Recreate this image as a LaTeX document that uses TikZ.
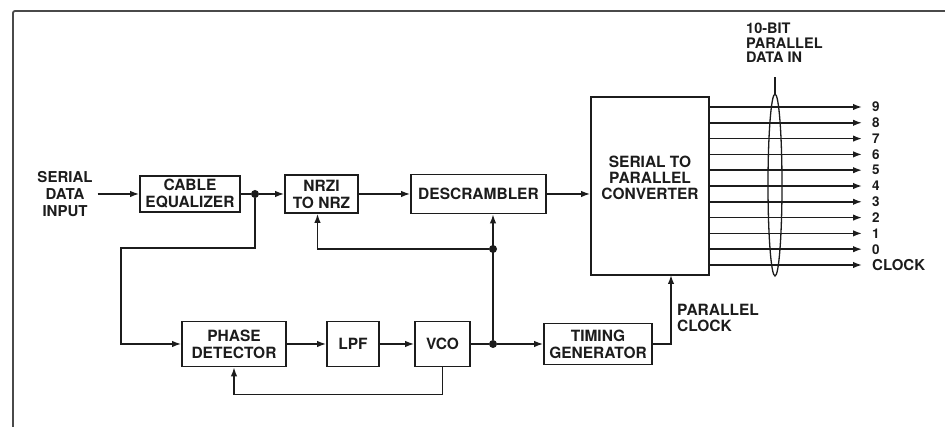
\documentclass[tikz,border=0pt]{standalone}
\usepackage{fontspec}
\setmainfont{TeX Gyre Heros}
\usepackage{tikz}
\usetikzlibrary{arrows.meta,positioning}
\usepackage{xcolor}
\definecolor{inkdark}{HTML}{1c1c1c}
\definecolor{framegray}{HTML}{4a4a4a}

\tikzset{
  block/.style={draw=inkdark, line width=1.7pt, inner sep=0pt, align=center,
    text=inkdark, font=\fontsize{15.5}{17}\selectfont\bfseries},
  tag/.style={inner sep=0pt, align=center, text=inkdark,
    font=\fontsize{15}{17}\selectfont\bfseries},
  wire/.style={draw=inkdark, line width=1.6pt},
  feed/.style={wire, -{Latex[length=9pt,width=6.5pt]}},
  junction/.style={circle, fill=inkdark, inner sep=0pt, minimum size=8pt},
}

\begin{document}
\begin{tikzpicture}[x=1pt, y=1pt]

% === Wymiary ===
\useasboundingbox (0,0) rectangle (945,427);
\fill[white] (0,0) rectangle (945,427);

% === Ramka ===
\draw[framegray, line width=1.8pt, rounded corners=2pt]
  (13,0) -- (13,416) -- (945,416);

% === Gorny rzad ===
\node[tag, inner xsep=5pt] (sdi) at (65,233) {SERIAL\\DATA\\INPUT};
\node[block, minimum width=100pt, minimum height=36pt] (cable) at (190,233) {CABLE\\EQUALIZER};
\node[block, minimum width=73pt, minimum height=38pt] (nrzi) at (321.5,233) {NRZI\\TO NRZ};
\node[block, minimum width=135pt, minimum height=39pt] (descr) at (478.5,233) {DESCRAMBLER};
\node[block, minimum width=118pt, minimum height=178pt,
  label={[block, draw=none, font=\fontsize{15.5}{16}\selectfont\bfseries, yshift=8pt]center:SERIAL TO\\PARALLEL\\CONVERTER}]
  (conv) at (650,241) {};

% === Dolny rzad ===
\node[block, minimum width=104pt, minimum height=45pt] (pd) at (234,83) {PHASE\\DETECTOR};
\node[block, minimum width=52pt, minimum height=45pt] (lpf) at (353,83) {LPF};
\node[block, minimum width=55pt, minimum height=45pt] (vco) at (442.5,83) {VCO};
\node[block, minimum width=108pt, minimum height=41pt] (timing) at (598,83) {TIMING\\GENERATOR};

% === Wezly ===
\node[junction] (j1) at (255,233) {};
\node[junction] (j2) at (493,178) {};
\node[junction] (j3) at (493,83) {};
\coordinate (fb1) at (121,179);
\coordinate (pclk) at (671,152);

% === Polaczenia ===
\draw[feed] (sdi.east) -- (cable.west);
\draw[wire] (cable.east) -- (j1);
\draw[feed] (j1) -- (nrzi.west);
\draw[feed] (nrzi.east) -- (descr.west);
\draw[feed] (descr.east) -- (descr.east -| conv.west);
\draw[feed] (j1) |- (fb1) |- (pd.west);
\draw[feed] (pd.east) -- (lpf.west);
\draw[feed] (lpf.east) -- (vco.west);
\draw[wire] (vco.east) -- (j3);
\draw[feed] (j3) -- (timing.west);
\draw[feed] (j3) -- (j3 |- descr.south);
\draw[feed] (j2) -| ([xshift=-4pt]nrzi.south);
\draw[feed] (vco.south) -- ++(0,-27) -| (pd.south);
\draw[feed] (timing.east) -| (pclk);

\node[tag, anchor=west, align=left, font=\fontsize{15.5}{16}\selectfont\bfseries]
  (pclab) at (677,109) {PARALLEL\\CLOCK};

% === Szyna wyjsciowa ===
\foreach \i/\lab in {0/9,1/8,2/7,3/6,4/5,5/4,6/3,7/2,8/1,9/0} {
  \coordinate (out\i) at (862, 320-15.8*\i);
  \draw[feed] (conv.east |- out\i) -- (out\i);
  \node[tag, anchor=west, font=\fontsize{13.5}{14}\selectfont\bfseries] (lab\i) at (872, 320-15.8*\i) {\lab};
}
\coordinate (outclk) at (862,162);
\draw[feed] (conv.east |- outclk) -- (outclk);
\node[tag, anchor=west] (labclk) at (872,162) {CLOCK};

% === Elipsa szyny ===
\draw[wire, line width=1.3pt] (775,242) ellipse (7 and 91);
\coordinate (eltop) at (775,333);
\draw[wire, line width=1.3pt] (eltop) -- ++(0,17);
\node[tag, anchor=north west, align=left, font=\fontsize{14.5}{14.5}\selectfont\bfseries]
  (buslab) at (746,404) {10-BIT\\PARALLEL\\DATA IN};

\end{tikzpicture}
\end{document}
